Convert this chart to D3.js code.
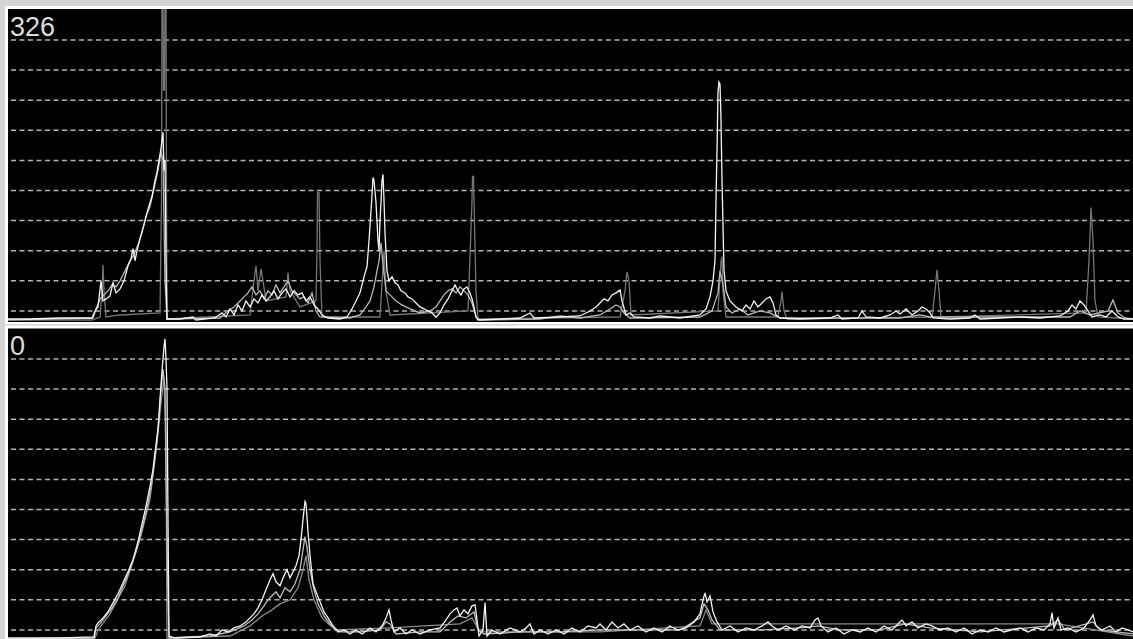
<!DOCTYPE html>
<html>
<head>
<meta charset="utf-8">
<script src="https://cdn.jsdelivr.net/npm/d3@7"></script>
<style>
  body { margin: 0; background: #d4d4d4; }
  svg { display: block; }
</style>
</head>
<body>
<div id="chart"></div>
<script>
// chart data, [x, value] pairs
const panelLabels = ["326", "0"];
const gridValues = [10, 40, 70, 100, 130, 160, 190, 220, 250, 280];

// top panel
const topWhite = [[0,2],[30,2],[60,3],[92,3],[95,10],[98,14],[101,40],[103,20],[106,22],[110,25],[113,38],[116,28],[120,32],[124,40],[128,55],[131,62],[133,72],[135,60],[137,70],[140,82],[144,96],[147,108],[150,118],[152,124],[155,140],[157,148],[159,160],[161,172],[163,188],[164,150],[165,160],[166,60],[167,2],[180,2],[193,4],[196,1],[215,3],[222,8],[226,4],[230,12],[234,6],[238,16],[242,10],[246,20],[250,14],[254,22],[258,18],[262,26],[266,20],[270,24],[274,30],[278,22],[282,28],[286,32],[290,24],[294,30],[298,26],[302,28],[306,20],[310,24],[314,16],[318,12],[322,6],[328,3],[340,2],[347,4],[352,12],[356,20],[360,28],[364,44],[367,54],[369,80],[371,110],[372,125],[373,143],[374,140],[376,118],[378,80],[379,70],[380,100],[381,118],[382,140],[383,146],[384,120],[385,88],[387,50],[389,40],[392,44],[395,38],[398,36],[401,30],[405,28],[408,24],[412,22],[416,18],[420,14],[424,12],[428,10],[432,8],[436,4],[440,8],[444,16],[448,22],[452,30],[455,36],[458,30],[461,26],[464,32],[467,34],[470,28],[472,22],[474,14],[476,4],[478,1],[500,2],[520,3],[530,8],[534,3],[560,4],[580,5],[590,10],[596,14],[600,18],[604,22],[608,20],[612,26],[616,28],[620,31],[622,20],[626,6],[630,8],[634,4],[650,3],[660,5],[680,3],[700,6],[706,12],[710,24],[713,40],[715,60],[716,120],[717,170],[718,228],[719,238],[720,236],[721,200],[722,140],[723,94],[724,50],[726,30],[730,20],[736,14],[742,10],[746,16],[750,12],[754,20],[758,14],[762,18],[766,22],[770,24],[773,18],[776,6],[780,3],[800,2],[830,3],[838,6],[842,2],[858,3],[862,10],[866,4],[880,3],[890,6],[896,10],[900,7],[906,12],[912,6],[918,10],[922,14],[926,12],[930,8],[933,3],[950,2],[970,3],[975,6],[980,2],[1000,3],[1020,4],[1040,3],[1060,5],[1068,10],[1072,16],[1076,12],[1080,20],[1084,16],[1088,10],[1092,4],[1100,6],[1106,4],[1112,10],[1118,4],[1124,2],[1133,2]];

const topLight = [[0,1],[50,2],[93,3],[96,12],[100,22],[104,26],[108,30],[112,36],[116,34],[120,40],[126,52],[130,60],[134,66],[138,76],[142,88],[146,104],[150,114],[154,132],[158,150],[161,168],[163,160],[165,40],[167,2],[220,3],[228,10],[234,14],[240,20],[244,24],[248,28],[252,34],[256,26],[260,30],[264,22],[268,30],[272,26],[276,36],[280,28],[284,34],[288,40],[292,30],[296,26],[300,22],[304,24],[308,18],[312,28],[316,10],[320,4],[350,3],[360,6],[366,14],[370,20],[374,34],[377,50],[379,60],[381,78],[383,56],[386,30],[390,26],[396,20],[402,16],[410,12],[420,8],[430,10],[436,14],[440,20],[444,26],[448,30],[452,32],[456,28],[460,34],[464,30],[468,26],[472,18],[476,4],[480,1],[540,2],[560,5],[580,3],[600,6],[610,12],[616,16],[620,14],[624,8],[630,3],[700,4],[712,10],[718,28],[720,50],[723,36],[726,14],[732,8],[740,12],[748,6],[760,10],[770,8],[780,3],[900,3],[920,6],[930,4],[1070,4],[1080,10],[1090,6],[1108,10],[1113,21],[1118,8],[1125,3],[1133,2]];

const topDark = [[0,1],[92,1],[100,4],[102,30],[103,56],[104,30],[106,4],[120,6],[160,8],[161.5,120],[162,330],[163,330],[163.5,230],[164.5,230],[165,330],[166,330],[166.5,120],[167,2],[250,6],[254,40],[256,55],[258,30],[261,52],[263,40],[266,20],[286,24],[288,48],[290,30],[300,14],[316,20],[317,70],[317.5,128],[319,128],[320,60],[322,4],[380,4],[384,70],[386,30],[390,6],[468,10],[470,64],[472,120],[472.5,144],[473.5,144],[474,120],[476,30],[478,2],[620,4],[625,30],[627,49],[629,40],[631,6],[718,10],[721,60],[722,64],[723,30],[726,4],[778,4],[781,20],[782,29],[784,10],[787,2],[932,4],[935,30],[937,51],[939,30],[941,4],[1086,8],[1089,60],[1091,113],[1093,80],[1095,20],[1098,4],[1133,2]];

// bottom panel
const bottomWhite = [[0,2],[60,2],[94,3],[96,14],[98,17],[103,22],[108,28],[113,37],[118,46],[123,57],[128,68],[133,80],[138,98],[143,120],[147,138],[150,153],[153,170],[155,187],[158,210],[160,240],[162,268],[163,280],[164,292],[165,300],[166,280],[167,250],[168,120],[169,4],[175,2],[200,3],[210,6],[216,4],[222,10],[228,8],[234,12],[240,14],[246,18],[250,22],[254,26],[258,32],[262,40],[266,50],[270,60],[273,66],[276,58],[280,54],[284,64],[287,70],[290,62],[293,68],[296,74],[299,84],[301,100],[303,120],[305,138],[306,136],[308,108],[310,84],[313,56],[316,48],[320,38],[324,28],[328,22],[333,14],[338,8],[344,10],[350,6],[356,10],[362,6],[370,12],[376,8],[382,14],[386,22],[389,30],[391,20],[394,8],[400,12],[406,6],[412,10],[420,6],[430,10],[440,12],[446,20],[450,26],[454,30],[457,32],[460,24],[464,30],[468,26],[472,34],[475,35],[477,20],[479,4],[483,10],[485,37],[487,4],[492,10],[500,6],[510,12],[520,8],[526,12],[530,16],[534,6],[540,10],[548,6],[556,10],[564,6],[572,12],[580,8],[588,14],[596,12],[600,16],[606,10],[612,18],[618,12],[624,16],[630,10],[638,14],[646,8],[654,12],[662,8],[670,14],[678,10],[686,12],[694,18],[700,26],[703,40],[705,47],[707,38],[710,44],[713,28],[717,18],[722,10],[730,14],[738,8],[746,12],[754,10],[762,14],[768,18],[772,14],[778,10],[786,14],[794,10],[802,14],[810,12],[815,20],[818,22],[821,14],[828,8],[836,12],[844,6],[852,10],[860,8],[868,12],[876,8],[884,14],[892,10],[898,16],[902,20],[906,14],[912,18],[918,12],[926,16],[932,14],[940,10],[948,12],[956,8],[964,12],[972,6],[980,10],[988,8],[996,12],[1004,8],[1012,10],[1020,12],[1028,8],[1036,12],[1044,10],[1050,16],[1052,27],[1054,12],[1058,22],[1061,10],[1068,12],[1076,8],[1084,12],[1090,20],[1093,25],[1096,14],[1102,10],[1110,14],[1116,8],[1122,12],[1128,10],[1133,8]];

const bottomLight = [[0,1],[94,2],[96,12],[100,16],[106,24],[112,32],[118,42],[124,56],[130,70],[136,88],[142,110],[148,136],[152,158],[156,190],[159,220],[161,250],[163,270],[165,250],[166,160],[167,100],[168,40],[169,2],[210,4],[230,8],[244,14],[252,20],[258,26],[264,34],[268,40],[272,44],[276,48],[280,42],[285,52],[290,48],[295,56],[300,70],[303,90],[305,103],[307,92],[310,70],[314,50],[318,36],[324,24],[330,16],[340,8],[360,8],[380,10],[386,18],[390,16],[396,6],[420,8],[440,8],[450,18],[458,24],[466,22],[474,28],[478,10],[484,6],[520,8],[560,8],[600,10],[640,10],[680,10],[700,22],[704,36],[708,30],[712,20],[720,10],[760,10],[800,12],[818,14],[840,10],[880,10],[905,16],[930,12],[980,8],[1050,14],[1058,20],[1065,10],[1093,18],[1100,10],[1133,6]];

const bottomMid = [[0,1],[95,2],[98,10],[110,26],[125,54],[140,100],[150,140],[157,196],[161,236],[164,262],[166,200],[167,2],[230,4],[250,14],[262,24],[272,30],[280,36],[290,40],[298,52],[303,70],[306,84],[309,60],[314,40],[322,22],[335,10],[390,12],[460,16],[472,22],[480,8],[600,8],[700,14],[706,30],[712,16],[1058,16],[1133,4]];

const width = 1133, height = 639;

const svg = d3.select("#chart")
    .append("svg")
    .attr("width", width)
    .attr("height", height);

// panels: frame + black plot area
const panels = [
    { label: panelLabels[0], top: 9.8, base: 321, frameY: 6, frameH: 318, blackY: 9, blackH: 313, labelY: 36,
      series: [[topDark, "#767676"], [topLight, "#b8b8b8"], [topWhite, "#f4f4f4"]] },
    { label: panelLabels[1], top: 328.8, base: 640, frameY: 325.5, frameH: 320, blackY: 328.5, blackH: 320, labelY: 355,
      series: [[bottomMid, "#8c8c8c"], [bottomLight, "#bdbdbd"], [bottomWhite, "#f4f4f4"]] }
];

let x = d3.scaleLinear()
    .domain([0, 1133])
    .range([0, 1133]);

panels.forEach(function(p, i) {
    svg.append("rect")
        .attr("x", 5).attr("y", p.frameY)
        .attr("width", width).attr("height", p.frameH)
        .attr("fill", "#ffffff");
    svg.append("rect")
        .attr("x", 8).attr("y", p.blackY)
        .attr("width", width).attr("height", p.blackH)
        .attr("fill", "#000000");

    let y = d3.scaleLinear()
        .domain([0, 310])
        .range([p.base, p.top]);

    svg.append("clipPath").attr("id", "clip" + i)
        .append("rect")
        .attr("x", 8).attr("y", p.blackY)
        .attr("width", width).attr("height", p.blackH);

    let g = svg.append("g").attr("clip-path", `url(#clip${i})`);

    // dashed grid
    g.selectAll(".grid")
        .data(gridValues)
        .enter().append("line")
        .attr("x1", 11).attr("x2", width)
        .attr("y1", d => y(d)).attr("y2", d => y(d))
        .attr("stroke", "#b4b4b4")
        .attr("stroke-width", 1.5)
        .attr("stroke-dasharray", "5,3.5");

    let line = d3.line()
        .x(d => x(d[0]))
        .y(d => y(d[1]));

    p.series.forEach(function(s) {
        g.append("path")
            .datum(s[0])
            .attr("d", line)
            .attr("fill", "none")
            .attr("stroke", s[1])
            .attr("stroke-width", 1.3);
    });

    g.append("text")
        .attr("x", 10).attr("y", p.labelY)
        .attr("font-family", "'Liberation Sans', Arial, sans-serif")
        .attr("font-size", 27)
        .attr("fill", "#dcdcdc")
        .text(p.label);
});
</script>
</body>
</html>
